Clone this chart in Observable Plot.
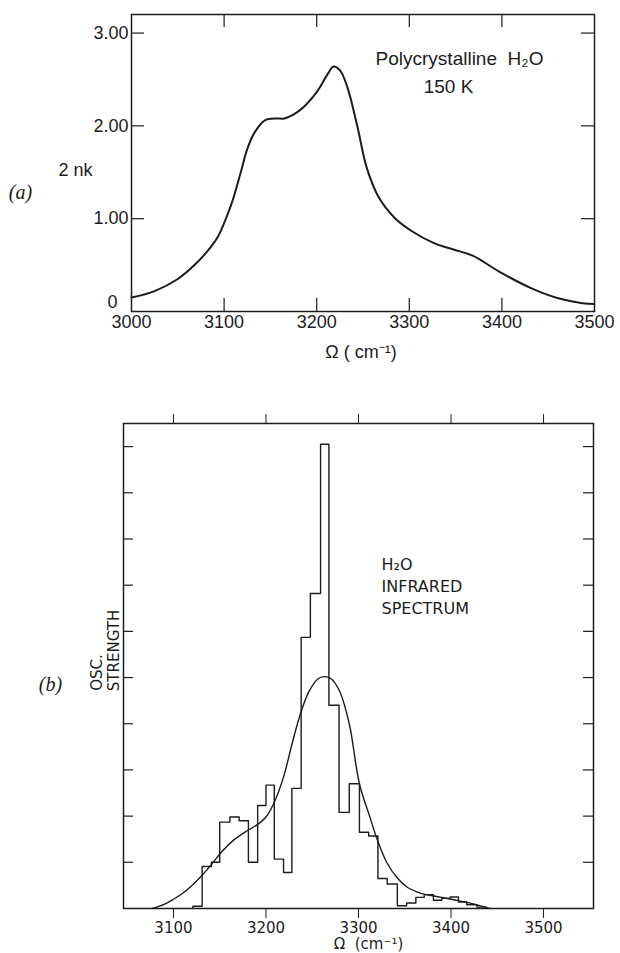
<!DOCTYPE html>
<html><head><meta charset="utf-8">
<script src="https://cdn.jsdelivr.net/npm/d3@7"></script>
<script src="https://cdn.jsdelivr.net/npm/@observablehq/plot@0.6"></script>
<style>
html,body{margin:0;padding:0;background:#fff;}
#wrap{position:relative;width:620px;height:953px;overflow:hidden;background:#fff;}
#top{position:absolute;left:0;top:0;}
#bot{position:absolute;left:0;top:400px;}
</style></head><body>
<div id="wrap"><div id="top"></div><div id="bot"></div></div>
<script>
// ---------- (a) Polycrystalline H2O, 150 K : 2nk vs wavenumber ----------
const topWavenumber = [3000,3025,3050,3068,3082,3093,3102,3110,3118,3125,3133,3144,3157,3165,3182,3199,3212,3218,3225,3233,3244,3254,3267,3284,3302,3326,3347,3369,3397,3432,3462,3487,3500];
const topTwoNK      = [0.15,0.22,0.35,0.50,0.65,0.80,1.00,1.22,1.50,1.75,1.93,2.06,2.08,2.08,2.17,2.35,2.56,2.64,2.60,2.42,1.99,1.55,1.23,1.01,0.87,0.74,0.67,0.60,0.43,0.25,0.14,0.09,0.08];
const topXTicks = [3000,3100,3200,3300,3400,3500];
const topInnerXTicks = [3100,3200,3300,3400];
const topYTicks = [1,2,3];
const topYTickLabels = ["1.00","2.00","3.00"];

// ---------- (b) H2O infrared spectrum : oscillator strength histogram + fit ----------
const histStart    = [3121,3131,3141,3150,3161,3171,3181,3191,3200,3209,3219,3228,3238,3248,3259,3268,3279,3290,3301,3311,3321,3331,3342,3352,3362,3371,3381,3390,3399,3408,3417,3428];
const histStrength = [0.05,0.91,1.00,1.87,1.98,1.90,1.00,2.23,2.67,1.07,0.78,2.60,5.87,6.82,10.05,4.40,2.08,2.70,1.65,1.57,0.65,0.53,0.06,0.12,0.24,0.30,0.18,0.22,0.25,0.14,0.08,0.03];
const histEnd = 3438;
const fitWavenumber = [3077,3090,3100,3110,3120,3130,3141,3151,3165,3181,3191,3200,3209,3219,3228,3237,3246,3256,3263,3270,3279,3290,3301,3312,3321,3331,3342,3352,3363,3371,3390,3408,3428,3442];
const fitStrength   = [0,0.09,0.20,0.33,0.50,0.70,0.95,1.20,1.48,1.70,1.82,1.98,2.30,2.85,3.55,4.20,4.68,4.97,5.02,4.98,4.73,4.00,2.70,2.00,1.45,0.98,0.66,0.47,0.36,0.31,0.24,0.17,0.08,0];
const botXTicks = [3100,3200,3300,3400,3500];
const botYTicks = [1,2,3,4,5,6,7,8,9,10];

const INK = "#1c1c1c";
const mid = {textAnchor: "middle", lineAnchor: "middle"};

// ---------- top chart ----------
{
  const width = 620, height = 370, mL = 131, mR = 26, mT = 14, mB = 59;
  const W = width - mL - mR, H = height - mT - mB;
  const tickLen = 13;
  const data = topWavenumber.map((w, i) => ({w, v: topTwoNK[i]}));
  const chart = Plot.plot({
    width, height, marginLeft: mL, marginRight: mR, marginTop: mT, marginBottom: mB,
    style: {fontFamily: "'Liberation Sans', Arial, sans-serif", fontSize: "18px", color: INK, background: "#fff"},
    x: {domain: [3000, 3500], axis: null},
    y: {domain: [0, 3.2], axis: null},
    marks: [
      Plot.frame({stroke: INK, strokeWidth: 1.5}),
      Plot.tickX(topInnerXTicks, {x: d => d, insetTop: H - tickLen, stroke: INK, strokeWidth: 1.2}),
      Plot.tickX(topInnerXTicks, {x: d => d, insetBottom: H - tickLen, stroke: INK, strokeWidth: 1.2}),
      Plot.tickY(topYTicks, {y: d => d, insetRight: W - tickLen, stroke: INK, strokeWidth: 1.2}),
      Plot.tickY(topYTicks, {y: d => d, insetLeft: W - tickLen, stroke: INK, strokeWidth: 1.2}),
      Plot.axisX(topXTicks, {anchor: "bottom", tickSize: 0, tickPadding: 4, label: null, tickFormat: d => String(d), fill: INK}),
      Plot.axisY(topYTicks, {anchor: "left", tickSize: 0, tickPadding: 3, label: null, tickFormat: d => topYTickLabels[topYTicks.indexOf(d)], fill: INK}),
      Plot.text(["0"], {frameAnchor: "bottom-left", dx: -14, dy: -9, textAnchor: "end", lineAnchor: "middle", fill: INK}),
      Plot.line(data, {x: "w", y: "v", curve: "catmull-rom", stroke: INK, strokeWidth: 2}),
      Plot.text(["Polycrystalline  H\u2082O"], {...mid, frameAnchor: "top-left", dx: 328, dy: 44, fontSize: 19, fill: INK}),
      Plot.text(["150 K"], {...mid, frameAnchor: "top-left", dx: 317, dy: 72, fontSize: 19, fill: INK}),
      Plot.text(["2 nk"], {...mid, frameAnchor: "top-left", dx: -56, dy: 156, fontSize: 18, fill: INK}),
      Plot.text(["(a)"], {...mid, frameAnchor: "top-left", dx: -111, dy: 178, fontSize: 20, fontStyle: "italic", fontFamily: "'Liberation Serif', 'DejaVu Serif', serif", fill: INK}),
      Plot.text(["\u03a9 ( cm\u207b\u00b9)"], {...mid, frameAnchor: "bottom", dx: -2, dy: 41, fontSize: 18, fill: INK})
    ]
  });
  document.getElementById("top").appendChild(chart);
}

// ---------- bottom chart ----------
{
  const width = 620, height = 553, mL = 123, mR = 27, mT = 23, mB = 45;
  const W = width - mL - mR, H = height - mT - mB;
  const tickLen = 10;
  const hist = [{x: histStart[0], y: 0}]
    .concat(histStart.map((x, i) => ({x, y: histStrength[i]})))
    .concat([{x: histEnd, y: 0}]);
  const fit = fitWavenumber.map((x, i) => ({x, y: fitStrength[i]}));
  const chart = Plot.plot({
    width, height, marginLeft: mL, marginRight: mR, marginTop: mT, marginBottom: mB,
    style: {fontFamily: "'DejaVu Sans', Verdana, sans-serif", fontSize: "15px", color: INK, background: "#fff"},
    x: {domain: [3046, 3554], axis: null},
    y: {domain: [0, 10.5], axis: null},
    marks: [
      Plot.frame({stroke: INK, strokeWidth: 1.5}),
      Plot.tickY(botYTicks, {y: d => d, insetRight: W - tickLen, stroke: INK, strokeWidth: 1.2}),
      Plot.tickY(botYTicks, {y: d => d, insetLeft: W - tickLen, stroke: INK, strokeWidth: 1.2}),
      Plot.axisX(botXTicks, {anchor: "bottom", tickSize: tickLen, tickPadding: 4, label: null, tickFormat: d => String(d), stroke: INK, fill: INK}),
      Plot.axisX(botXTicks, {anchor: "top", tickSize: tickLen, tickPadding: 2, label: null, tickFormat: () => "", stroke: INK}),
      Plot.line(hist, {x: "x", y: "y", curve: "step-after", stroke: INK, strokeWidth: 1.4}),
      Plot.line(fit, {x: "x", y: "y", curve: "catmull-rom", stroke: INK, strokeWidth: 1.4}),
      Plot.text(["H\u2082O\nINFRARED\nSPECTRUM"], {frameAnchor: "top-left", dx: 258, dy: 161, textAnchor: "start", lineAnchor: "middle", lineHeight: 1.38, fontSize: 16, fill: INK}),
      Plot.text(["OSC."], {...mid, frameAnchor: "top-left", dx: -26, dy: 249, rotate: -90, fontSize: 15, fill: INK}),
      Plot.text(["STRENGTH"], {...mid, frameAnchor: "top-left", dx: -9, dy: 227, rotate: -90, fontSize: 15, fill: INK}),
      Plot.text(["(b)"], {...mid, frameAnchor: "top-left", dx: -73, dy: 261, fontSize: 20, fontStyle: "italic", fontFamily: "'Liberation Serif', 'DejaVu Serif', serif", fill: INK}),
      Plot.text(["\u03a9  (cm\u207b\u00b9)"], {...mid, frameAnchor: "bottom", dx: 10, dy: 36, fontSize: 15, fill: INK})
    ]
  });
  document.getElementById("bot").appendChild(chart);
}
</script>
</body></html>
